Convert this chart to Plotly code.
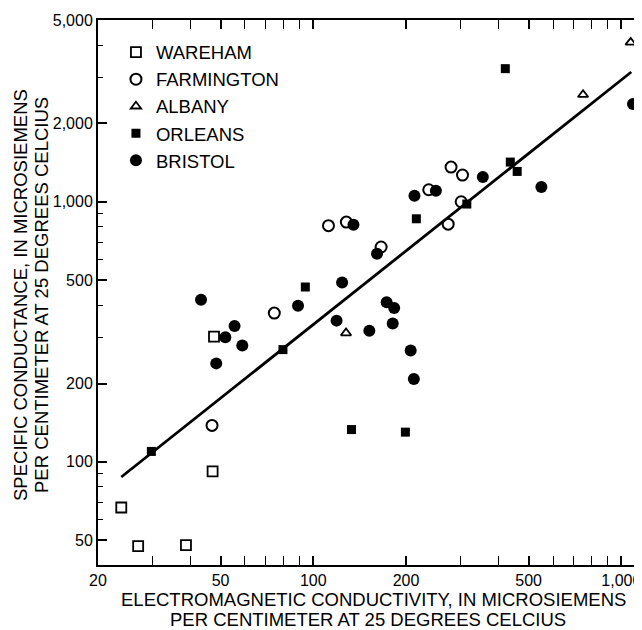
import plotly.graph_objects as go

# ---- data ----
wareham_x = [23.8, 27.0, 38.6, 47.1, 47.6]
wareham_y = [66.7, 47.4, 47.8, 91.8, 303]

farmington_x = [46.9, 74.7, 112, 128, 166, 237, 274, 280, 302, 305]
farmington_y = [138, 373, 809, 835, 670, 1112, 820, 1359, 1000, 1267]

albany_x = [127.7, 751, 1072]
albany_y = [312.6, 2580, 4100]

orleans_x = [29.8, 79.7, 94.2, 133, 199, 216, 315, 436, 459, 420]
orleans_y = [109.6, 270, 470, 133, 130, 860, 980, 1421, 1308, 3250]

bristol_x = [43.2, 48.4, 51.8, 55.5, 58.8, 89.2, 119, 124, 135, 152, 161,
             173, 181, 183, 207, 212, 213, 250, 355, 550, 1091]
bristol_y = [420, 239, 301, 333, 280, 398, 349, 489, 816, 319, 631,
             411, 340, 390, 268, 208, 1054, 1102, 1245, 1139, 2375]

fit_x = [23.8, 1077]
fit_y = [87.4, 3155]

x_tickvals = [20, 50, 100, 200, 500, 1000]
x_ticktext = ["20", "50", "100", "200", "500", "1,000"]
x_minor = [30, 40, 60, 70, 80, 90, 300, 400, 600, 700, 800, 900]

y_tickvals = [50, 100, 200, 500, 1000, 2000, 5000]
y_ticktext = ["50", "100", "200", "500", "1,000", "2,000", "5,000"]
y_minor = [60, 70, 80, 90, 300, 400, 600, 700, 800, 900, 3000, 4000]
y_right_ticks = [100, 1000]

x_title = ["ELECTROMAGNETIC CONDUCTIVITY, IN MICROSIEMENS",
           "PER CENTIMETER AT 25 DEGREES CELCIUS"]
y_title = ["SPECIFIC CONDUCTANCE, IN MICROSIEMENS",
           "PER CENTIMETER AT 25 DEGREES CELCIUS"]

FONT = "Liberation Sans, Arial, sans-serif"

fig = go.Figure()

fig.add_trace(go.Scatter(x=fit_x, y=fit_y, mode="lines",
                         line=dict(color="black", width=2.8),
                         showlegend=False, hoverinfo="skip"))

series = [
    ("WAREHAM", wareham_x, wareham_y, "square-open", 10, 1.8),
    ("FARMINGTON", farmington_x, farmington_y, "circle-open", 11, 2.0),
    ("ALBANY", albany_x, albany_y, "triangle-up-open", 9, 1.8),
    ("ORLEANS", orleans_x, orleans_y, "square", 9, 0),
    ("BRISTOL", bristol_x, bristol_y, "circle", 12, 0),
]
for name, xs, ys, sym, sz, lw in series:
    fig.add_trace(go.Scatter(
        x=xs, y=ys, mode="markers", name=name,
        marker=dict(symbol=sym, size=sz, color="black",
                    line=dict(color="black", width=lw)),
    ))

# invisible helper trace so the right-hand tick axis is drawn
fig.add_trace(go.Scatter(x=fit_x, y=fit_y, yaxis="y2", mode="lines",
                         line=dict(width=0, color="rgba(0,0,0,0)"),
                         showlegend=False, hoverinfo="skip"))

axis_common = dict(
    type="log", showgrid=False, zeroline=False,
    showline=True, linecolor="black", linewidth=2,
    ticks="inside", ticklen=9, tickwidth=1.6, tickcolor="black",
    tickfont=dict(family=FONT, size=16, color="black"),
)

fig.update_xaxes(
    **axis_common, mirror="allticks",
    range=[1.301, 3.067],
    tickmode="array", tickvals=x_tickvals, ticktext=x_ticktext,
    minor=dict(tickmode="array", tickvals=x_minor, ticks="inside",
               ticklen=5, tickwidth=1.3, tickcolor="black"),
)
fig.update_layout(yaxis=dict(
    **axis_common, mirror=False,
    range=[1.603, 3.699],
    tickmode="array", tickvals=y_tickvals, ticktext=y_ticktext,
    minor=dict(tickmode="array", tickvals=y_minor, ticks="inside",
               ticklen=5, tickwidth=1.3, tickcolor="black"),
))
fig.update_layout(yaxis2=dict(
    type="log", overlaying="y", side="right", range=[1.603, 3.699],
    showgrid=False, zeroline=False, showline=False,
    ticks="inside", ticklen=6, tickwidth=1.6, tickcolor="black",
    tickmode="array", tickvals=y_right_ticks, showticklabels=False,
))

title_font = dict(family=FONT, size=18.5, color="black")
for txt, xp, yp in zip(x_title, [0.507, 0.496], [-0.0642, -0.1009]):
    fig.add_annotation(text=txt, xref="paper", yref="paper", x=xp, y=yp,
                       xanchor="center", yanchor="middle", showarrow=False,
                       font=title_font)
for txt, xp in zip(y_title, [-0.1434, -0.1048]):
    fig.add_annotation(text=txt, xref="paper", yref="paper", x=xp, y=0.4954,
                       textangle=-90, xanchor="center", yanchor="middle",
                       showarrow=False, font=title_font)

# page body adds an 8px offset, so the figure is 8px smaller and shifted
fig.update_layout(
    width=634, height=622,
    margin=dict(l=90, r=0, t=12, b=65),
    paper_bgcolor="white", plot_bgcolor="white",
    font=dict(family=FONT, color="black"),
    legend=dict(x=0.033, y=0.975, xanchor="left", yanchor="top",
                bgcolor="rgba(0,0,0,0)",
                font=dict(family=FONT, size=18.5, color="black")),
)

fig.write_html("out.html")
